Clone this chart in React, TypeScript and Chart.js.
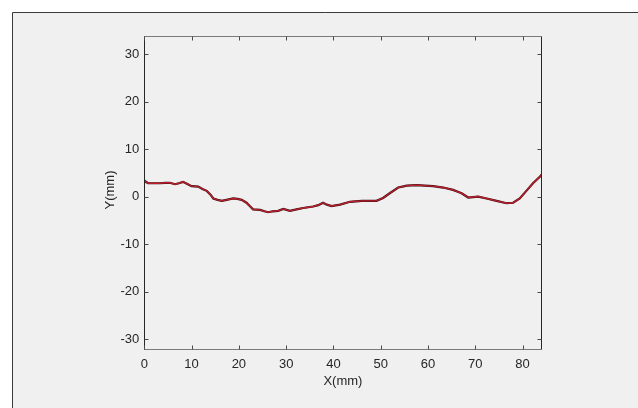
import React, { useEffect, useRef } from "react";
import { Chart, registerables } from "chart.js";

Chart.register(...registerables);

// Surface profile along the measured track
const xValues = [
  0, 0.1, 0.8, 2.0, 3.3, 4.4, 5.4, 6.5, 7.3, 8.2, 9.0, 10.0, 11.4, 12.3, 13.2, 14.0, 14.6, 15.5,
  16.4, 17.4, 18.8, 19.7, 20.6, 21.6, 22.3, 23.0, 24.5, 25.4, 26.2, 27.2, 28.3, 29.4, 30.8,
  32.2, 33.6, 35.7, 36.8, 37.8, 38.6, 39.6, 41.4, 43.5, 46.0, 48.0, 49.1, 50.5, 51.9, 53.7,
  54.6, 55.5, 57.6, 59.3, 61.1, 63.2, 65.3, 66.3, 67.1, 68.5, 70.6, 72.4, 74.5, 76.6, 78.0,
  79.4, 80.8, 82.2, 83.7, 84.0,
];
const yValues = [
  3.4, 3.3, 2.8, 2.8, 2.8, 2.9, 2.9, 2.6, 2.8, 3.1, 2.7, 2.2, 2.1, 1.6, 1.2, 0.4, -0.4, -0.7,
  -0.9, -0.7, -0.4, -0.5, -0.7, -1.3, -2.0, -2.7, -2.8, -3.1, -3.3, -3.1, -3.0, -2.6, -3.0,
  -2.7, -2.4, -2.1, -1.8, -1.3, -1.7, -2.0, -1.7, -1.1, -0.9, -0.9, -0.9, -0.3, 0.7, 1.9,
  2.1, 2.3, 2.4, 2.3, 2.2, 1.9, 1.4, 1.0, 0.7, -0.2, 0.0, -0.4, -0.9, -1.4, -1.3,
  -0.4, 1.2, 2.8, 4.2, 4.6,
];

const xTicks = [0, 10, 20, 30, 40, 50, 60, 70, 80];
const yTicks = [-30, -20, -10, 0, 10, 20, 30];
const xLimits = [0, 84];
const yLimits = [-32.3, 33.8];
const xTitle = "X(mm)";
const yTitle = "Y(mm)";

const FONT = "'Liberation Sans', Arial, sans-serif";
const TEXT = "#262626";

// Figure background, axes box, inward tick marks and axis titles
const figurePlugin = {
  id: "figureFrame",
  beforeDraw(chart: any) {
    const { ctx, width, height } = chart;
    ctx.save();
    ctx.fillStyle = "#ffffff";
    ctx.fillRect(0, 0, width, height);
    ctx.fillStyle = "#f0f0f0";
    ctx.fillRect(12, 12, width - 12, height - 12);
    ctx.strokeStyle = "#3a3a3a";
    ctx.lineWidth = 1;
    ctx.beginPath();
    ctx.moveTo(12.5, height);
    ctx.lineTo(12.5, 12.5);
    ctx.lineTo(width, 12.5);
    ctx.stroke();
    ctx.restore();
  },
  afterDraw(chart: any) {
    const { ctx, chartArea: a } = chart;
    const xs = chart.scales.x;
    const ys = chart.scales.y;
    const L = Math.round(a.left) + 0.5;
    const R = Math.round(a.right) - 0.5;
    const T = Math.round(a.top) + 0.5;
    const B = Math.round(a.bottom) - 0.5;
    ctx.save();
    ctx.lineWidth = 1;
    // horizontal box edges
    ctx.strokeStyle = "#7a7a7a";
    ctx.beginPath();
    ctx.moveTo(L, T);
    ctx.lineTo(R, T);
    ctx.moveTo(L, B);
    ctx.lineTo(R, B);
    ctx.stroke();
    // vertical box edges
    ctx.strokeStyle = "#262626";
    ctx.beginPath();
    ctx.moveTo(L, T);
    ctx.lineTo(L, B);
    ctx.moveTo(R, T);
    ctx.lineTo(R, B);
    ctx.stroke();
    // tick marks pointing inward
    const tl = 4;
    ctx.strokeStyle = "#4a4a4a";
    ctx.beginPath();
    xTicks.forEach((v) => {
      const px = Math.round(xs.getPixelForValue(v)) + 0.5;
      ctx.moveTo(px, B);
      ctx.lineTo(px, B - tl);
      ctx.moveTo(px, T);
      ctx.lineTo(px, T + tl);
    });
    yTicks.forEach((v) => {
      const py = Math.round(ys.getPixelForValue(v)) + 0.5;
      ctx.moveTo(L, py);
      ctx.lineTo(L + tl, py);
      ctx.moveTo(R, py);
      ctx.lineTo(R - tl, py);
    });
    ctx.stroke();
    // axis titles
    ctx.fillStyle = TEXT;
    ctx.font = `13px ${FONT}`;
    ctx.textAlign = "center";
    ctx.textBaseline = "middle";
    ctx.fillText(xTitle, (a.left + a.right) / 2, 381);
    ctx.translate(110, (a.top + a.bottom) / 2 - 3);
    ctx.rotate(-Math.PI / 2);
    ctx.fillText(yTitle, 0, 0);
    ctx.restore();
  },
};

export default function App() {
  const canvasRef = useRef<HTMLCanvasElement | null>(null);

  useEffect(() => {
    const canvas = canvasRef.current;
    if (!canvas) return;
    const points = xValues.map((x, i) => ({ x, y: yValues[i] }));
    const chart = new Chart(canvas, {
      type: "line",
      data: {
        datasets: [
          {
            data: points,
            borderColor: "#b8202e",
            borderWidth: 1.4,
            pointRadius: 0,
            tension: 0,
            fill: false,
            order: 0,
          },
          {
            data: points,
            borderColor: "#3a0c10",
            borderWidth: 2.2,
            pointRadius: 0,
            tension: 0,
            fill: false,
            order: 1,
          },
        ],
      },
      options: {
        responsive: false,
        animation: false,
        devicePixelRatio: 1,
        layout: { padding: { left: 0, top: 36, right: 96.5, bottom: 0 } },
        plugins: {
          legend: { display: false },
          tooltip: { enabled: false },
          title: { display: false },
        },
        scales: {
          x: {
            type: "linear",
            min: xLimits[0],
            max: xLimits[1],
            border: { display: false },
            grid: { display: false, drawTicks: false },
            ticks: {
              color: TEXT,
              font: { family: FONT, size: 13 },
              padding: 7,
              maxRotation: 0,
              autoSkip: false,
            },
            afterBuildTicks(scale: any) {
              scale.ticks = xTicks.map((value) => ({ value }));
            },
            afterFit(scale: any) {
              scale.height = 58;
            },
          },
          y: {
            type: "linear",
            min: yLimits[0],
            max: yLimits[1],
            border: { display: false },
            grid: { display: false, drawTicks: false },
            ticks: {
              color: TEXT,
              font: { family: FONT, size: 13 },
              padding: 5,
              autoSkip: false,
            },
            afterBuildTicks(scale: any) {
              scale.ticks = yTicks.map((value) => ({ value }));
            },
            afterFit(scale: any) {
              scale.width = 144.3;
            },
          },
        },
      },
      plugins: [figurePlugin],
    });
    return () => chart.destroy();
  }, []);

  return (
    <div style={{ position: "absolute", left: 0, top: 0, width: 638, height: 408 }}>
      <canvas ref={canvasRef} width={638} height={408} style={{ display: "block" }} />
    </div>
  );
}
